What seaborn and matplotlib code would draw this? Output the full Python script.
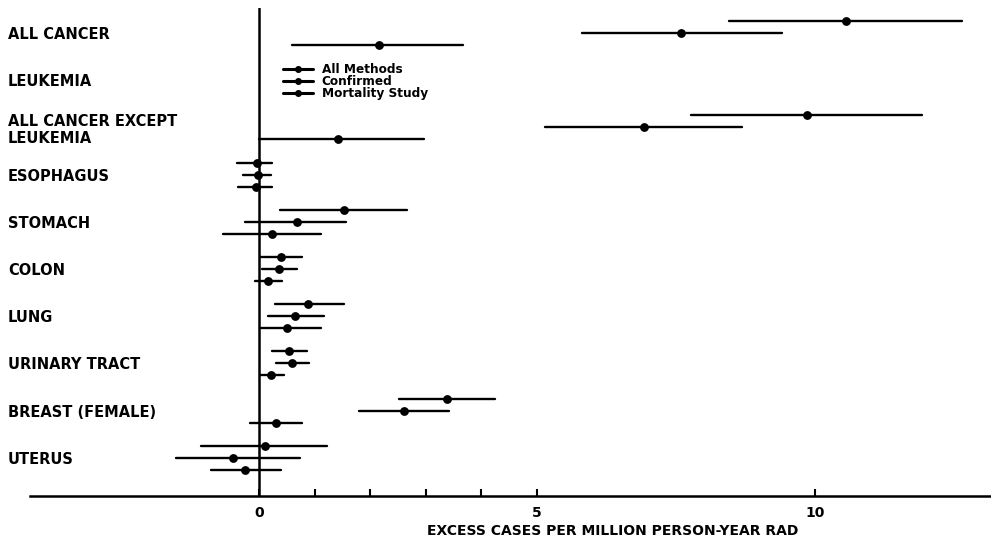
import numpy as np
import pandas as pd
import seaborn as sns
import matplotlib.pyplot as plt
from matplotlib.lines import Line2D

# excess cases per million person-year rad: point estimate and interval
cancers = ["ALL CANCER", "LEUKEMIA", "ALL CANCER EXCEPT\nLEUKEMIA", "ESOPHAGUS", "STOMACH",
           "COLON", "LUNG", "URINARY TRACT", "BREAST (FEMALE)", "UTERUS"]
methods = ["All Methods", "Confirmed", "Mortality Study"]

nan = np.nan
all_est = [10.56, nan, 9.86, -0.04, 1.53, 0.40, 0.88, 0.54, 3.38, 0.11]
all_lo = [8.45, nan, 7.77, -0.40, 0.38, 0.02, 0.29, 0.23, 2.52, -1.04]
all_hi = [12.64, nan, 11.92, 0.23, 2.66, 0.77, 1.53, 0.86, 4.24, 1.22]

conf_est = [7.59, nan, 6.92, -0.02, 0.68, 0.36, 0.65, 0.59, 2.61, -0.47]
conf_lo = [5.81, nan, 5.14, -0.29, -0.25, 0.05, 0.16, 0.31, 1.80, -1.49]
conf_hi = [9.41, nan, 8.69, 0.22, 1.56, 0.68, 1.17, 0.90, 3.42, 0.74]

mort_est = [2.16, nan, 1.42, -0.05, 0.23, 0.16, 0.50, 0.22, 0.31, -0.25]
mort_lo = [0.59, nan, 0.00, -0.38, -0.65, -0.07, 0.02, 0.02, -0.16, -0.86]
mort_hi = [3.67, nan, 2.97, 0.23, 1.12, 0.41, 1.12, 0.45, 0.77, 0.40]

# long form: low / estimate / high per group -> median + full range
rows = []
for method, est, lo, hi in zip(methods,
                               [all_est, conf_est, mort_est],
                               [all_lo, conf_lo, mort_lo],
                               [all_hi, conf_hi, mort_hi]):
    for c, m, a, b in zip(cancers, est, lo, hi):
        if np.isnan(m):
            continue
        for v in (a, m, b):
            rows.append({"cancer": c, "method": method, "value": v})
df = pd.DataFrame(rows)

sns.set_style("white")
plt.rcParams["text.color"] = "black"
plt.rcParams["xtick.color"] = "black"
plt.rcParams["ytick.color"] = "black"
plt.rcParams["axes.labelcolor"] = "black"

fig = plt.figure(figsize=(9.91, 5.42), dpi=100)
ax = fig.add_axes([30 / 991, 46 / 542, 961 / 991, 488 / 542])

sns.pointplot(data=df, x="value", y="cancer", hue="method", order=cancers, hue_order=methods,
              estimator="median", errorbar=("pi", 100), dodge=0.51,
              palette={m: "black" for m in methods}, marker="o", linestyle="none",
              markersize=4.3, err_kws={"linewidth": 1.7}, legend=False, ax=ax)

ax.set_xlim(-(259 - 30) / 55.6, (991 - 259) / 55.6)
ax.set_ylim(9.81, -0.53)
ax.axvline(0, color="black", lw=1.8, zorder=1)

for s in ["top", "right", "left"]:
    ax.spines[s].set_visible(False)
ax.spines["bottom"].set_linewidth(1.8)
ax.spines["bottom"].set_color("black")

ax.set_xticks([0, 5, 10])
ax.set_xticklabels(["0", "5", "10"], fontsize=10, fontweight="bold")
ax.set_xticks([1, 2, 3, 4], minor=True)
ax.tick_params(axis="x", which="both", bottom=True, direction="in", length=5, width=1.5,
               color="black", pad=7)

ax.set_ylabel("")
ax.tick_params(axis="y", left=False, length=0, pad=(30 - 8) * 0.72)
for lab in ax.get_yticklabels():
    lab.set_ha("left")
    lab.set_fontweight("bold")
    lab.set_fontsize(10.5)

ax.set_xlabel("EXCESS CASES PER MILLION PERSON-YEAR RAD", fontsize=10, fontweight="bold")
ax.xaxis.set_label_coords(0.606, -0.057)

handles = [Line2D([], [], color="black", lw=2.2, marker="o", ms=4) for _ in methods]
fig.legend(handles, methods, loc="upper left", bbox_to_anchor=(283 / 991, 1 - 63 / 542),
           frameon=False, prop={"weight": "bold", "size": 8.7}, handlelength=2.5,
           handletextpad=0.7, labelspacing=-0.08, borderpad=0, borderaxespad=0)

fig.savefig("out.png", dpi=100)
